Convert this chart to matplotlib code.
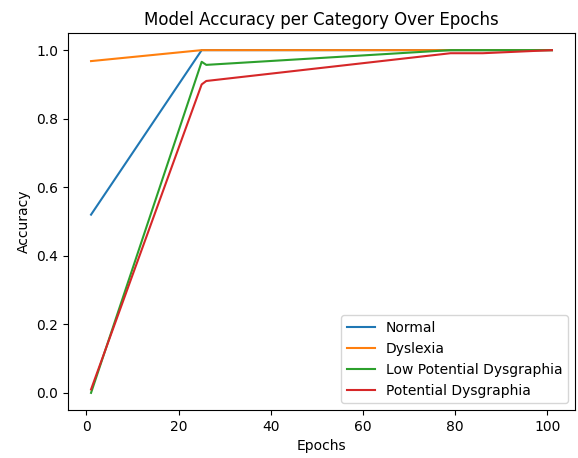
import matplotlib
matplotlib.use("Agg")
import matplotlib.pyplot as plt

epochs_normal = [1, 25, 101]
acc_normal = [0.52, 1.0, 1.0]

epochs_dys = [1, 25, 101]
acc_dys = [0.968, 1.0, 1.0]

epochs_low = [1, 25, 26, 79, 101]
acc_low = [0.0, 0.966, 0.957, 1.0, 1.0]

epochs_pot = [1, 25, 26, 79, 86, 101]
acc_pot = [0.01, 0.90, 0.91, 0.991, 0.991, 1.0]

fig = plt.figure(figsize=(5.78, 4.58), dpi=100)
ax = fig.add_axes([68 / 578, 1 - 410 / 458, (575 - 68) / 578, (410 - 33) / 458])

ax.plot(epochs_normal, acc_normal, label="Normal")
ax.plot(epochs_dys, acc_dys, label="Dyslexia")
ax.plot(epochs_low, acc_low, label="Low Potential Dysgraphia")
ax.plot(epochs_pot, acc_pot, label="Potential Dysgraphia")

ax.set_xlabel("Epochs")
ax.set_ylabel("Accuracy")
ax.set_title("Model Accuracy per Category Over Epochs")
ax.legend(loc="lower right")

fig.savefig("out.png")
